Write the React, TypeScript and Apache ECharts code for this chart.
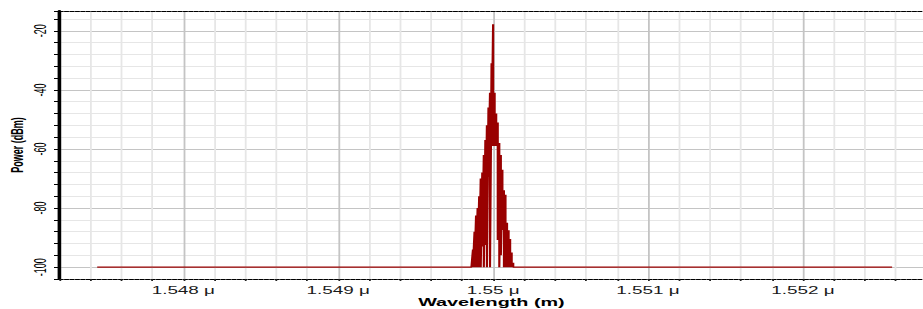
import React, { useEffect, useRef } from "react";
import * as echarts from "echarts";

// Axis ranges (μm and dBm)
const xMinUm = 1.5472;
const xMaxUm = 1.552778;
const xTickStepUm = 0.0002;
const yMinDbm = -104;
const yMaxDbm = -13.3;
const yTickStepDbm = 4;

// Noise floor of the spectrum
const noiseFloorDbm = -100;
const floorWavelengthUm = [1.547444, 1.552576];

// Spectral samples around the carrier (0.01 nm spacing)
const peakWavelengthUm = [
  1.54987, 1.54988, 1.54989, 1.5499, 1.54991, 1.54992, 1.54993, 1.54994, 1.54995,
  1.54996, 1.54997, 1.54998, 1.54999, 1.55, 1.55001, 1.55002, 1.55003, 1.55004,
  1.55005, 1.55006, 1.55007, 1.55008, 1.55009, 1.5501, 1.55011, 1.55012, 1.55013,
];
const peakTopDbm = [
  -94, -88, -82.5, -80, -76, -70, -68, -62, -57, -52, -46, -41, -31, -17.8, -41, -48,
  -51, -58, -62, -67, -74, -75.5, -85, -87.5, -90.5, -95, -98.5,
];
const peakBottomDbm = [
  -100, -100, -100, -100, -100, -100, -93, -100, -92.5, -100, -69.5, -100, -59, -59,
  -59, -59, -90.8, -100, -96, -87.4, -100, -100, -100, -100, -100, -100, -100,
];

const minorGrid = "#e6e6e6";
const majorGrid = "#c4c4c4";

function isMultiple(v: number, step: number) {
  const r = v / step;
  return Math.abs(r - Math.round(r)) < 1e-6;
}

export default function App() {
  const ref = useRef<HTMLDivElement>(null);

  useEffect(() => {
    if (!ref.current) return;
    const chart = echarts.init(ref.current, undefined, { renderer: "svg" });

    const data: number[][] = [];
    data.push([floorWavelengthUm[0], noiseFloorDbm]);
    data.push([peakWavelengthUm[0] - 0.00001, noiseFloorDbm]);
    for (let i = 0; i < peakWavelengthUm.length; i++) {
      data.push([peakWavelengthUm[i], peakTopDbm[i]]);
      data.push([peakWavelengthUm[i], peakBottomDbm[i]]);
    }
    data.push([peakWavelengthUm[peakWavelengthUm.length - 1] + 0.00001, noiseFloorDbm]);
    data.push([floorWavelengthUm[1], noiseFloorDbm]);

    const font = "Liberation Sans, Arial, sans-serif";

    chart.setOption({
      animation: false,
      backgroundColor: "#ffffff",
      grid: {
        left: 33,
        right: 0,
        top: 11,
        bottom: 30,
        containLabel: false,
        outerBoundsMode: "none",
      },
      xAxis: [
        {
          type: "value",
          position: "bottom",
          min: xMinUm,
          max: xMaxUm,
          interval: xTickStepUm,
          axisLine: { show: true, lineStyle: { color: "#000", width: 1, type: [2, 1] } },
          axisTick: { show: true, length: 2, lineStyle: { color: "#222" } },
          axisLabel: {
            margin: 6,
            fontSize: 10.5,
            fontFamily: font,
            color: "#1a1a1a",
            formatter: (v: number) =>
              isMultiple(v, 0.001) ? `${+v.toFixed(3)} μ` : "",
          },
          splitLine: {
            show: true,
            lineStyle: {
              width: 1,
              color: [minorGrid, minorGrid, minorGrid, minorGrid, majorGrid],
            },
          },
          name: "Wavelength (m)",
          nameLocation: "middle",
          nameGap: 18,
          nameMoveOverlap: false,
          nameTextStyle: {
            fontWeight: "bold",
            fontSize: 11,
            color: "#000",
            fontFamily: font,
            verticalAlign: "top",
          },
        },
        {
          type: "value",
          position: "top",
          min: xMinUm,
          max: xMaxUm,
          interval: xTickStepUm,
          axisLine: { show: true, lineStyle: { color: "#000", width: 1, type: [2, 1] } },
          axisTick: { show: false },
          axisLabel: { show: false },
          splitLine: { show: false },
        },
      ],
      yAxis: {
        type: "value",
        min: yMinDbm,
        max: yMaxDbm,
        interval: yTickStepDbm,
        axisLine: { show: true, lineStyle: { color: "#000", width: 2 } },
        axisTick: { show: true, length: 3, lineStyle: { color: "#000" } },
        axisLabel: {
          rotate: 90,
          margin: 6,
          fontSize: 9,
          fontFamily: font,
          color: "#000",
          formatter: (v: number) => (isMultiple(v, 20) ? `${v}` : ""),
        },
        splitLine: {
          show: true,
          lineStyle: {
            width: 1,
            color: [minorGrid, majorGrid, minorGrid, minorGrid, minorGrid],
          },
        },
        name: "Power (dBm)",
        nameLocation: "middle",
        nameGap: 19,
        nameMoveOverlap: false,
        nameTextStyle: { fontWeight: "bold", fontSize: 9, color: "#000", fontFamily: font },
      },
      series: [
        {
          type: "line",
          xAxisIndex: 0,
          data,
          showSymbol: false,
          symbol: "none",
          lineStyle: { color: "#990000", width: 1.2 },
          z: 3,
        },
      ],
    });

    return () => chart.dispose();
  }, []);

  return (
    <div
      ref={ref}
      style={{
        position: "fixed",
        left: 0,
        top: 0,
        width: 513,
        height: 309,
        transform: "scaleX(1.8)",
        transformOrigin: "0 0",
        background: "#fff",
      }}
    />
  );
}
